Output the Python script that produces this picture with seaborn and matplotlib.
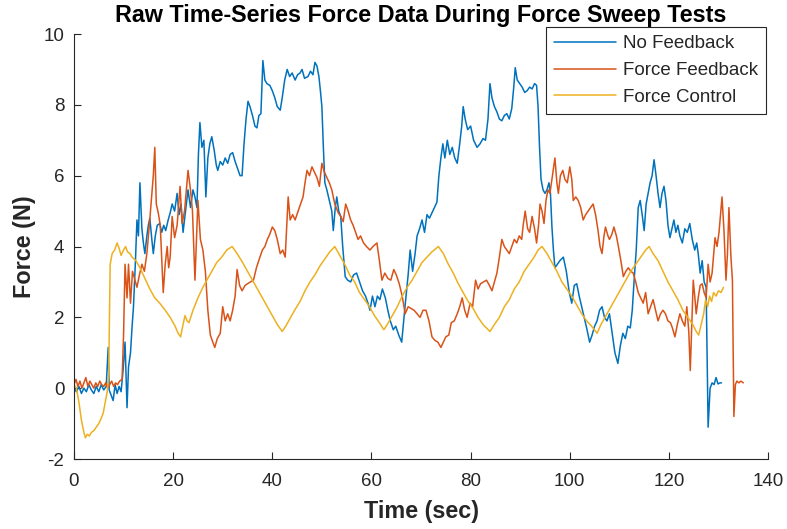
import matplotlib
matplotlib.use("Agg")
import matplotlib.pyplot as plt
import seaborn as sns
import pandas as pd

# Series labels and colours
SERIES = ["No Feedback", "Force Feedback", "Force Control"]
COLORS = ["#0072BD", "#D95319", "#EDB120"]

# (time in s, force in N) samples for each test
NO_FEEDBACK = [
    (0, 0.0), (0.5, -0.1), (1.0, 0.05), (1.5, -0.15), (2.0, 0.0), (2.5, -0.1), (3.0, 0.1), (3.5, -0.05),
    (4.0, -0.15), (4.5, 0.05), (5.0, -0.1), (5.5, 0.1), (6.0, -0.05), (6.5, 0.05), (6.9, 1.15), (7.1, -0.05),
    (7.5, -0.2), (7.9, -0.35), (8.3, 0.1), (8.7, -0.15), (9.1, 0.05), (9.5, -0.1), (9.9, 0.5), (10.3, 1.3),
    (10.7, -0.55), (11.0, 0.6), (11.4, 1.0), (11.7, 1.7), (12.0, 2.3), (12.4, 3.6), (12.7, 4.75), (13.0, 4.3),
    (13.3, 5.8), (13.7, 4.5), (14.0, 4.1), (14.3, 3.8), (14.7, 4.3), (15.0, 4.6), (15.3, 4.8), (15.7, 4.2),
    (16.0, 3.8), (16.4, 4.3), (16.8, 4.6), (17.3, 4.65), (17.7, 4.4), (18.1, 4.6), (18.5, 4.45), (19.0, 4.75),
    (19.4, 4.95), (19.8, 5.2), (20.3, 5.0), (20.8, 5.5), (21.2, 4.9), (21.6, 5.2), (22.0, 4.4), (22.5, 5.0),
    (23.0, 5.6), (23.5, 5.1), (24.0, 5.6), (24.4, 5.4), (24.8, 5.1), (25.1, 6.6), (25.4, 7.5), (25.8, 6.8),
    (26.2, 7.0), (26.6, 5.4), (27.0, 6.5), (27.4, 6.9), (27.8, 7.1), (28.3, 6.7), (28.7, 6.3), (29.0, 6.15),
    (29.5, 6.4), (30.0, 6.3), (30.5, 6.5), (31.0, 6.35), (31.5, 6.6), (32.0, 6.65), (32.5, 6.4), (33.0, 6.2),
    (33.5, 6.0), (33.9, 6.0), (34.3, 6.9), (34.7, 7.6), (35.1, 8.1), (35.5, 7.95), (36.0, 7.7), (36.5, 7.4),
    (36.9, 7.35), (37.3, 7.7), (37.7, 7.75), (38.1, 9.25), (38.5, 8.7), (38.9, 8.6), (39.5, 8.55), (40.0, 8.4),
    (40.5, 8.2), (41.0, 7.95), (41.6, 7.85), (42.0, 8.2), (42.5, 8.7), (43.0, 9.0), (43.5, 8.8), (44.0, 8.9),
    (44.6, 8.7), (45.1, 8.85), (45.6, 8.9), (46.0, 9.0), (46.5, 8.75), (47.2, 8.8), (47.7, 8.95), (48.2, 8.85),
    (48.6, 9.2), (49.0, 9.1), (49.4, 8.8), (49.7, 8.4), (50.0, 7.95), (50.3, 6.8), (50.6, 5.8), (51.0, 5.6),
    (51.5, 5.3), (52.0, 5.0), (52.3, 4.45), (52.7, 5.1), (53.0, 5.4), (53.4, 5.0), (53.8, 4.85), (54.2, 4.0),
    (54.7, 3.15), (55.2, 3.05), (55.8, 3.0), (56.4, 3.2), (57.0, 3.25), (57.6, 3.0), (58.2, 2.75), (58.8, 2.6),
    (59.3, 2.4), (59.7, 2.2), (60.2, 2.6), (60.7, 2.3), (61.2, 2.6), (61.7, 2.5), (62.2, 2.8), (62.8, 2.55),
    (63.3, 2.2), (63.8, 1.9), (64.4, 1.65), (64.9, 1.75), (65.5, 1.5), (66.1, 1.3), (66.5, 1.9), (66.9, 2.5),
    (67.4, 3.2), (67.8, 3.9), (68.3, 3.3), (68.8, 3.8), (69.2, 4.3), (69.7, 4.5), (70.2, 4.75), (70.7, 4.4),
    (71.2, 4.9), (71.7, 4.8), (72.2, 4.95), (72.7, 5.1), (73.2, 5.25), (73.6, 6.0), (74.0, 6.5), (74.4, 6.9),
    (74.8, 6.5), (75.3, 7.0), (75.8, 6.6), (76.3, 6.8), (76.8, 6.5), (77.3, 6.35), (77.8, 6.9), (78.2, 7.4),
    (78.5, 7.95), (78.9, 7.6), (79.4, 7.3), (80.0, 7.4), (80.6, 7.0), (81.3, 6.8), (81.9, 6.9), (82.5, 7.05),
    (83.0, 7.0), (83.5, 7.6), (83.9, 8.6), (84.3, 8.2), (84.8, 7.95), (85.3, 7.8), (85.8, 7.6), (86.3, 7.55),
    (86.8, 7.7), (87.3, 7.75), (87.8, 7.6), (88.3, 7.9), (88.7, 8.5), (89.0, 9.05), (89.4, 8.7), (89.9, 8.6),
    (90.4, 8.5), (90.9, 8.35), (91.4, 8.4), (91.9, 8.5), (92.4, 8.45), (92.9, 8.6), (93.3, 8.55), (93.6, 7.95),
    (93.9, 6.8), (94.2, 5.9), (94.6, 5.6), (95.0, 5.5), (95.4, 5.6), (95.8, 5.8), (96.1, 5.5), (96.4, 4.55),
    (96.7, 3.9), (97.0, 3.4), (97.5, 3.5), (98.0, 3.6), (98.7, 3.7), (99.3, 3.3), (99.9, 2.7), (100.4, 2.4),
    (100.9, 2.9), (101.4, 2.95), (101.9, 2.6), (102.4, 2.3), (102.9, 2.0), (103.4, 1.7), (104.0, 1.3),
    (104.5, 1.5), (105.0, 1.75), (105.5, 1.9), (106.0, 2.2), (106.5, 2.3), (107.0, 2.0), (107.5, 1.9),
    (108.0, 2.1), (108.5, 1.6), (109.1, 1.0), (109.7, 0.7), (110.2, 1.2), (110.7, 1.55), (111.2, 1.4),
    (111.7, 1.75), (112.2, 1.7), (112.6, 2.2), (113.0, 3.1), (113.4, 3.9), (113.8, 5.1), (114.2, 5.3),
    (114.6, 4.9), (115.0, 4.45), (115.4, 5.2), (115.8, 5.5), (116.2, 5.8), (116.6, 6.0), (117.0, 6.45),
    (117.4, 6.0), (117.8, 5.5), (118.2, 5.1), (118.6, 5.5), (119.0, 5.7), (119.4, 5.3), (119.8, 4.6),
    (120.2, 4.25), (120.6, 4.5), (121.0, 4.75), (121.4, 4.4), (121.8, 4.6), (122.2, 4.3), (122.7, 4.1),
    (123.2, 4.5), (123.7, 4.4), (124.2, 4.65), (124.7, 4.2), (125.2, 3.9), (125.6, 4.1), (125.9, 3.8),
    (126.3, 3.25), (126.7, 3.6), (127.1, 3.0), (127.5, 2.85), (127.9, -1.1), (128.3, 0.0), (128.7, 0.15),
    (129.1, 0.1), (129.5, 0.3), (129.9, 0.12), (130.3, 0.15), (130.6, 0.15),
]

FORCE_FEEDBACK = [
    (0, 0.1), (0.4, 0.25), (0.8, 0.05), (1.2, 0.2), (1.6, 0.0), (2.0, 0.15), (2.4, 0.3), (2.8, 0.05),
    (3.2, 0.2), (3.6, 0.1), (4.0, 0.0), (4.4, 0.15), (4.8, 0.05), (5.2, 0.2), (5.6, 0.1), (6.0, 0.05),
    (6.4, 0.15), (6.8, 0.0), (7.2, 0.1), (7.6, 0.2), (8.0, 0.05), (8.4, 0.15), (8.8, 0.1), (9.2, 0.2),
    (9.7, 0.25), (10.0, 1.5), (10.3, 3.5), (10.7, 2.55), (11.0, 3.5), (11.4, 2.4), (11.8, 3.3), (12.3, 3.05),
    (12.7, 2.85), (13.2, 3.2), (13.7, 3.5), (14.2, 3.3), (14.7, 3.8), (15.2, 4.6), (15.6, 5.3), (16.0, 6.0),
    (16.3, 6.8), (16.6, 5.2), (17.0, 4.95), (17.4, 4.6), (18.0, 2.7), (18.4, 3.5), (18.8, 4.0), (19.1, 3.4),
    (19.4, 3.7), (19.8, 4.85), (20.3, 4.25), (20.8, 4.6), (21.4, 5.7), (21.8, 4.65), (22.3, 5.0), (23.0, 6.15),
    (23.5, 5.6), (23.9, 5.0), (24.4, 3.05), (24.8, 4.5), (25.0, 5.3), (25.5, 4.2), (26.0, 3.9), (26.5, 3.3),
    (27.0, 2.2), (27.5, 1.5), (28.0, 1.3), (28.4, 1.15), (28.9, 1.4), (29.5, 1.55), (30.0, 2.3), (30.5, 1.9),
    (31.0, 2.1), (31.5, 1.9), (32.0, 2.2), (32.5, 2.6), (32.9, 3.35), (33.4, 2.9), (33.9, 2.75), (34.5, 2.9),
    (35.0, 2.95), (35.6, 3.0), (36.2, 3.05), (36.8, 3.4), (37.5, 3.7), (38.0, 3.9), (38.5, 4.0), (39.0, 4.2),
    (39.5, 4.35), (40.0, 4.55), (40.5, 4.45), (41.0, 4.2), (41.6, 3.8), (42.1, 3.9), (42.6, 3.7), (43.2, 5.4),
    (43.6, 4.75), (44.1, 4.9), (44.6, 4.75), (45.2, 5.0), (45.7, 5.2), (46.2, 5.4), (46.6, 5.8), (47.0, 6.15),
    (47.5, 6.0), (48.0, 6.25), (48.5, 6.1), (49.0, 5.95), (49.5, 5.7), (50.0, 6.35), (50.5, 6.1), (51.0, 5.95),
    (51.5, 5.8), (52.0, 5.6), (52.6, 5.2), (53.3, 4.95), (53.8, 4.85), (54.3, 4.7), (54.8, 5.2), (55.3, 5.0),
    (55.8, 4.75), (56.3, 4.6), (56.8, 4.4), (57.3, 4.2), (57.8, 4.3), (58.4, 4.1), (59.0, 4.0), (59.7, 3.9),
    (60.3, 4.0), (61.1, 4.1), (61.6, 3.6), (62.1, 3.05), (62.7, 3.25), (63.3, 3.1), (63.9, 3.05), (64.5, 3.35),
    (65.0, 3.2), (65.6, 2.95), (66.2, 2.6), (66.8, 2.1), (67.4, 2.3), (68.0, 2.25), (68.6, 2.2), (69.2, 2.1),
    (69.8, 2.0), (70.4, 2.2), (71.0, 2.2), (71.6, 1.9), (72.2, 1.45), (72.8, 1.35), (73.4, 1.3), (74.0, 1.15),
    (74.5, 1.3), (75.0, 1.45), (75.6, 1.5), (76.1, 1.85), (76.7, 1.9), (77.3, 2.1), (77.8, 2.3), (78.3, 2.55),
    (78.8, 2.2), (79.3, 2.0), (79.9, 2.4), (80.4, 2.3), (81.0, 3.05), (81.5, 2.8), (82.0, 2.95), (82.6, 3.0),
    (83.2, 3.05), (83.8, 2.9), (84.3, 2.75), (84.8, 3.0), (85.3, 3.25), (85.8, 3.7), (86.3, 4.2), (86.8, 4.0),
    (87.3, 3.9), (87.8, 3.8), (88.3, 4.0), (88.8, 4.2), (89.3, 4.1), (89.8, 4.3), (90.3, 4.2), (90.6, 4.6),
    (91.0, 5.0), (91.5, 4.5), (91.9, 4.4), (92.4, 4.85), (92.9, 4.5), (93.3, 4.1), (93.7, 4.6), (94.0, 5.2),
    (94.4, 5.0), (94.8, 4.65), (95.2, 5.3), (95.6, 5.6), (96.0, 5.5), (96.4, 5.9), (97.0, 6.5), (97.4, 5.8),
    (97.7, 5.5), (98.1, 6.0), (98.6, 6.15), (99.0, 5.9), (99.5, 5.8), (100.0, 6.25), (100.4, 5.9), (100.7, 5.3),
    (101.2, 5.4), (101.7, 5.3), (102.2, 5.1), (102.7, 4.75), (103.2, 4.9), (103.7, 5.0), (104.2, 5.1),
    (104.7, 5.2), (105.2, 4.9), (105.7, 4.45), (106.1, 4.0), (106.5, 3.8), (106.9, 4.3), (107.2, 4.55),
    (107.7, 4.3), (108.0, 4.2), (108.5, 4.35), (108.9, 4.55), (109.4, 4.3), (109.8, 4.0), (110.3, 3.6),
    (110.8, 3.15), (111.3, 3.3), (111.8, 3.4), (112.3, 3.3), (112.8, 3.25), (113.3, 3.0), (113.8, 2.7),
    (114.3, 2.55), (114.8, 2.4), (115.3, 2.7), (115.8, 2.1), (116.3, 2.3), (116.8, 2.5), (117.3, 2.2),
    (117.8, 1.9), (118.3, 2.1), (118.8, 2.2), (119.3, 2.1), (119.8, 1.9), (120.3, 1.85), (120.7, 1.7),
    (121.2, 1.45), (121.7, 1.8), (122.2, 2.1), (122.7, 1.9), (123.2, 1.75), (123.6, 2.3), (124.0, 1.6),
    (124.3, 0.5), (124.6, 1.8), (124.9, 3.05), (125.2, 2.6), (125.5, 2.1), (125.9, 2.55), (126.3, 2.9),
    (126.7, 2.95), (127.1, 2.7), (127.5, 2.55), (127.9, 3.5), (128.3, 3.0), (128.7, 3.25), (129.3, 4.25),
    (129.7, 4.0), (130.1, 4.4), (130.7, 5.4), (131.1, 4.45), (131.5, 3.05), (131.8, 3.8), (132.1, 5.1),
    (132.5, 3.7), (132.8, 3.05), (133.1, -0.8), (133.4, 0.1), (133.7, 0.2), (134.1, 0.15), (134.5, 0.2),
    (135.0, 0.15),
]

FORCE_CONTROL = [
    (0, 0.1), (0.5, 0.0), (1.0, -0.4), (1.5, -0.9), (2.0, -1.25), (2.3, -1.4), (2.7, -1.3), (3.1, -1.35),
    (3.5, -1.25), (4.0, -1.2), (4.5, -1.1), (5.0, -1.0), (5.5, -0.85), (5.9, -0.7), (6.3, -0.4), (6.7, -0.1),
    (7.0, 0.4), (7.3, 3.5), (7.7, 3.8), (8.2, 3.9), (8.7, 4.1), (9.1, 3.95), (9.5, 3.75), (10.0, 3.9),
    (10.4, 4.0), (10.8, 3.85), (11.3, 3.8), (11.7, 3.7), (12.5, 3.6), (13.3, 3.4), (14.3, 3.1), (15.3, 2.8),
    (16.3, 2.55), (17.3, 2.4), (18.4, 2.2), (19.4, 2.0), (20.4, 1.75), (21.0, 1.55), (21.5, 1.45), (22.0, 1.8),
    (22.4, 2.05), (22.8, 1.9), (23.2, 1.85), (24.0, 2.2), (25.0, 2.55), (26.0, 2.85), (26.8, 3.05), (27.8, 3.3),
    (28.8, 3.55), (29.8, 3.7), (30.8, 3.9), (31.9, 4.0), (32.9, 3.8), (34.0, 3.55), (35.0, 3.3), (36.0, 3.05),
    (37.0, 2.8), (38.0, 2.55), (39.0, 2.3), (40.0, 2.05), (41.0, 1.8), (42.0, 1.6), (42.7, 1.75), (43.5, 1.95),
    (44.5, 2.2), (45.6, 2.45), (46.6, 2.75), (47.6, 3.0), (48.6, 3.2), (49.6, 3.45), (50.6, 3.65), (51.6, 3.85),
    (52.6, 4.0), (53.6, 3.75), (54.6, 3.5), (55.6, 3.2), (56.6, 3.0), (57.6, 2.7), (58.6, 2.5), (59.6, 2.3),
    (60.6, 2.05), (61.6, 1.85), (62.5, 1.65), (63.2, 1.8), (64.2, 2.05), (65.2, 2.3), (66.2, 2.6), (67.2, 2.85),
    (68.2, 3.05), (69.2, 3.3), (70.2, 3.55), (71.2, 3.7), (72.2, 3.85), (73.5, 4.0), (74.5, 3.8), (75.5, 3.5),
    (76.5, 3.25), (77.5, 2.95), (78.5, 2.7), (79.5, 2.45), (80.5, 2.25), (81.5, 2.0), (82.5, 1.8), (83.9, 1.6),
    (84.8, 1.8), (85.8, 2.0), (86.8, 2.3), (87.8, 2.5), (88.8, 2.8), (89.8, 3.0), (90.8, 3.3), (91.8, 3.5),
    (92.8, 3.7), (93.6, 3.9), (94.4, 4.0), (95.4, 3.8), (96.4, 3.55), (97.4, 3.3), (98.4, 3.0), (99.4, 2.8),
    (100.4, 2.6), (101.4, 2.35), (102.4, 2.1), (103.4, 1.9), (104.4, 1.75), (105.5, 1.55), (106.3, 1.8),
    (107.3, 2.05), (108.3, 2.3), (109.3, 2.55), (110.3, 2.8), (111.3, 3.05), (112.3, 3.3), (113.3, 3.5),
    (114.3, 3.7), (115.3, 3.9), (116.0, 4.0), (116.8, 3.8), (117.8, 3.6), (118.8, 3.3), (119.8, 3.0),
    (120.8, 2.75), (121.8, 2.5), (122.8, 2.2), (123.8, 2.0), (124.8, 1.8), (125.5, 1.6), (126.0, 1.5),
    (126.5, 1.8), (127.0, 2.1), (127.4, 2.5), (127.8, 2.3), (128.2, 2.6), (128.6, 2.45), (129.0, 2.7),
    (129.5, 2.6), (130.0, 2.75), (130.5, 2.7), (131.0, 2.85),
]

X_TICKS = [0, 20, 40, 60, 80, 100, 120, 140]
Y_TICKS = [-2, 0, 2, 4, 6, 8, 10]

frames = []
for name, samples in zip(SERIES, [NO_FEEDBACK, FORCE_FEEDBACK, FORCE_CONTROL]):
    t, f = zip(*samples)
    frames.append(pd.DataFrame({"Time": t, "Force": f, "Series": name}))
df = pd.concat(frames, ignore_index=True)

sns.set_style("white")
plt.rcParams["font.family"] = ["Liberation Sans", "DejaVu Sans"]
plt.rcParams["axes.unicode_minus"] = False
AX_COLOR = "#262626"

fig = plt.figure(figsize=(7.87, 5.29), dpi=100)
ax = fig.add_axes([0.094, 0.1323, 0.882, 0.8034])

sns.lineplot(data=df, x="Time", y="Force", hue="Series", hue_order=SERIES,
             palette=COLORS, estimator=None, sort=False, linewidth=1.1, ax=ax)

ax.set_xlim(0, 140)
ax.set_ylim(-2, 10)
ax.set_xticks(X_TICKS)
ax.set_yticks(Y_TICKS)
ax.tick_params(bottom=True, left=True, top=False, right=False, direction="in",
               length=5, width=0.8, colors=AX_COLOR, labelsize=13.5)
ax.tick_params(axis="x", pad=10)
ax.tick_params(axis="y", pad=7)
for side in ("top", "right"):
    ax.spines[side].set_visible(False)
for side in ("left", "bottom"):
    ax.spines[side].set_color(AX_COLOR)
    ax.spines[side].set_linewidth(0.8)

ax.set_title("Raw Time-Series Force Data During Force Sweep Tests",
             fontsize=16.8, fontweight="bold", color="black", pad=9)
ax.set_xlabel("Time (sec)", fontsize=16.8, fontweight="bold", color=AX_COLOR, labelpad=7)
ax.set_ylabel("Force (N)", fontsize=16.8, fontweight="bold", color=AX_COLOR, labelpad=5)

leg = ax.legend(loc="upper right", bbox_to_anchor=(0.997, 1.016), borderaxespad=0,
                fontsize=13.5, handlelength=3.3, handletextpad=0.4,
                labelspacing=0.52, borderpad=0.42, fancybox=False, framealpha=1)
leg.get_frame().set_edgecolor(AX_COLOR)
leg.get_frame().set_linewidth(0.8)
for txt in leg.get_texts():
    txt.set_color(AX_COLOR)

fig.savefig("out.png", dpi=100, facecolor="white")
